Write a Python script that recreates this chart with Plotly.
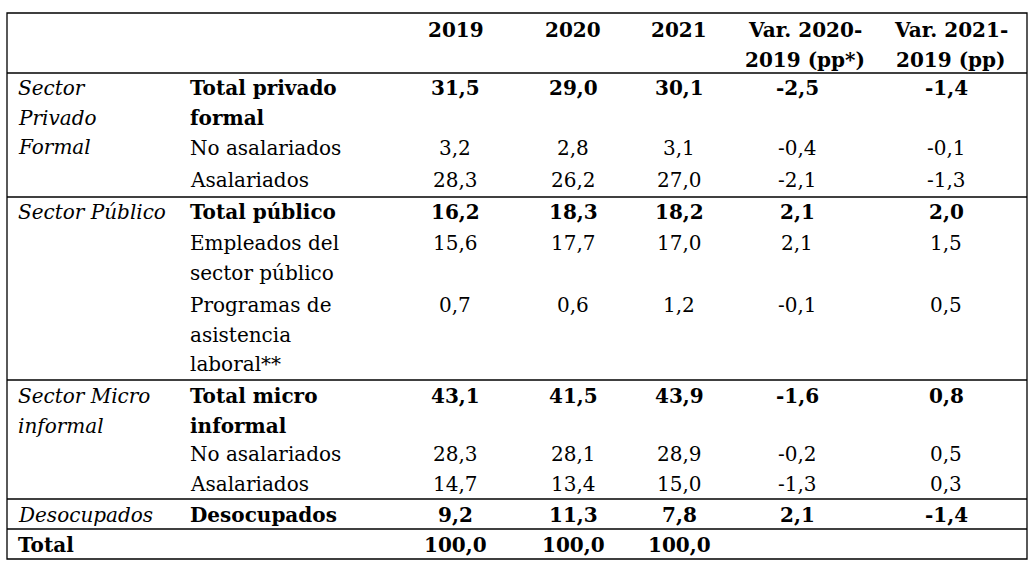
"""Tabla: composición del empleo por sector, 2019-2021."""

import plotly.graph_objects as go

# ---- datos ----
headers = ["2019", "2020", "2021", "Var. 2020-<br>2019 (pp*)", "Var. 2021-<br>2019 (pp)"]

sectors = [["Sector", "Privado", "Formal"],
           ["Sector Público"],
           ["Sector Micro", "informal"],
           ["Desocupados"]]

row_labels = [["Total privado", "formal"], ["No asalariados"], ["Asalariados"],
              ["Total público"], ["Empleados del", "sector público"],
              ["Programas de", "asistencia", "laboral**"],
              ["Total micro", "informal"], ["No asalariados"], ["Asalariados"],
              ["Desocupados"], []]
is_total = [True, False, False, True, False, False, True, False, False, True, True]

v2019 = [31.5, 3.2, 28.3, 16.2, 15.6, 0.7, 43.1, 28.3, 14.7, 9.2, 100.0]
v2020 = [29.0, 2.8, 26.2, 18.3, 17.7, 0.6, 41.5, 28.1, 13.4, 11.3, 100.0]
v2021 = [30.1, 3.1, 27.0, 18.2, 17.0, 1.2, 43.9, 28.9, 15.0, 7.8, 100.0]
var_20_19 = [-2.5, -0.4, -2.1, 2.1, 2.1, -0.1, -1.6, -0.2, -1.3, 2.1, None]
var_21_19 = [-1.4, -0.1, -1.3, 2.0, 1.5, 0.5, 0.8, 0.5, 0.3, -1.4, None]

# ---- disposición (px de pantalla) ----
W, H = 1032, 567
FONT = "DejaVu Serif"
SIZE = 20
LINE_H = 29.5
left, right = 7, 1027
rules = [73, 197, 380, 499, 529]
top, bottom = 13, 559
x_sector, x_label = 17, 189
x_head = [456, 573, 679, 805, 951]
x_vals = [455, 573, 679, 797, 946]
y_rows = [88, 148, 180, 212, 243, 305, 396, 454, 484, 515, 545]
y_sectors = [88, 212, 396, 515]
y_head = 30


def fmt(v):
    return "" if v is None else f"{v:.1f}".replace(".", ",")


fig = go.Figure()
ann = []


def add_text(x, y, text, anchor="left", bold=False, italic=False):
    if bold:
        text = f"<b>{text}</b>"
    if italic:
        text = f"<i>{text}</i>"
    ann.append(dict(x=x, y=y, xref="x", yref="y", text=text, showarrow=False,
                    xanchor=anchor, yanchor="middle", align="center", borderpad=0,
                    font=dict(family=FONT, size=SIZE, color="black")))


# encabezados
for x, h in zip(x_head, headers):
    for k, part in enumerate(h.split("<br>")):
        add_text(x, y_head + k * LINE_H, part, anchor="center", bold=True)

# sectores (cursiva)
for y, lines in zip(y_sectors, sectors):
    for k, line in enumerate(lines):
        add_text(x_sector, y + k * LINE_H, line, italic=True)
add_text(x_sector, y_rows[-1], "Total", bold=True)

# etiquetas de fila
for y, lines, b in zip(y_rows, row_labels, is_total):
    for k, line in enumerate(lines):
        add_text(x_label, y + k * LINE_H, line, bold=b)

# valores
for x, col in zip(x_vals, [v2019, v2020, v2021, var_20_19, var_21_19]):
    for y, v, b in zip(y_rows, col, is_total):
        if v is not None:
            add_text(x, y, fmt(v), anchor="center", bold=b)

shapes = [dict(type="rect", xref="x", yref="y", x0=left, x1=right, y0=top, y1=bottom,
               line=dict(color="black", width=1.3))]
for y in rules:
    shapes.append(dict(type="line", xref="x", yref="y", x0=left, x1=right, y0=y, y1=y,
                       line=dict(color="black", width=1.3)))

fig.update_layout(
    width=W, height=H,
    margin=dict(l=0, r=0, t=0, b=0),
    paper_bgcolor="white", plot_bgcolor="white",
    xaxis=dict(range=[0, W], visible=False, fixedrange=True),
    yaxis=dict(range=[H, 0], visible=False, fixedrange=True),
    annotations=ann, shapes=shapes, showlegend=False,
)

# sin margen del <body>, para que la tabla ocupe la ventana entera
fig.write_html("out.html", config={"displayModeBar": False},
               post_script="document.body.style.margin='0';"
               "document.body.style.overflow='hidden';")
